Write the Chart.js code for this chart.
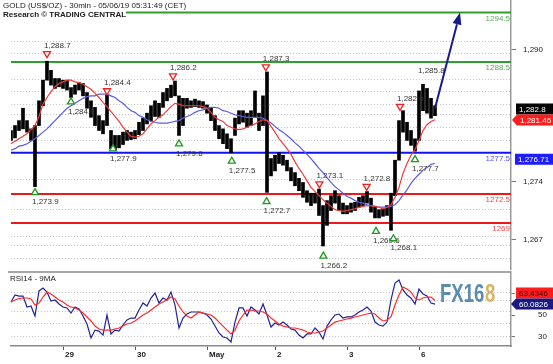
<!DOCTYPE html>
<html>
<head>
<meta charset="utf-8">
<script src="https://cdn.jsdelivr.net/npm/chart.js@4.4.1/dist/chart.umd.min.js"></script>
<style>
html, body { margin: 0; padding: 0; background: #fff; }
#wrap { position: relative; width: 553px; height: 364px; overflow: hidden; }
#wrap canvas { position: absolute; left: 0; }
#price { top: 0; }
#rsi { top: 270px; }
</style>
</head>
<body>
<div id="wrap">
  <canvas id="price" width="553" height="270"></canvas>
  <canvas id="rsi" width="553" height="94"></canvas>
</div>
<script>
// 30min bars, one slot = one sampled bar on the time axis
var slotCount = 126;
var dayTickIndex = [13, 31, 49, 66, 84, 102];
var dayTickLabels = ["29", "30", "May", "2", "3", "6"];

var priceHigh = [
    1280.2, 1280.8, 1281.4, 1282.9, 1281.4, 1280.4, 1280.8, 1283.8, 1286.3, 1288.6,
    1287.5, 1286.5, 1286.5, 1286.3, 1286.3, 1285.4, 1285.7, 1286.0, 1285.9, 1284.8,
    1283.8, 1283.0, 1282.0, 1281.4, 1284.5, 1280.2, 1279.6, 1279.6, 1280.0, 1280.2,
    1280.0, 1280.2, 1281.2, 1281.7, 1282.3, 1283.2, 1283.8, 1283.5, 1284.8, 1285.3,
    1285.7, 1286.2, 1284.4, 1284.1, 1284.1, 1283.8, 1284.0, 1283.8, 1283.7, 1283.3,
    1282.9, 1282.0, 1280.8, 1280.4, 1279.8, 1279.2, 1281.7, 1282.6, 1282.6, 1282.3,
    1282.6, 1285.0, 1282.3, 1284.4, 1287.3, 1276.8, 1277.2, 1277.5, 1277.2, 1276.6,
    1275.7, 1275.1, 1274.4, 1273.9, 1272.9, 1272.6, 1272.6, 1273.1, 1271.1, 1271.7,
    1272.3, 1272.9, 1272.3, 1271.4, 1271.1, 1271.4, 1271.5, 1272.1, 1272.3, 1272.8,
    1272.0, 1270.9, 1270.6, 1270.7, 1271.1, 1272.6, 1276.6, 1281.4, 1282.6, 1281.2,
    1280.2, 1279.2, 1285.0, 1285.8, 1285.3, 1284.1, 1283.2
];
var priceLow = [
    1279.0, 1279.3, 1280.2, 1280.4, 1280.0, 1279.0, 1273.4, 1280.8, 1283.2, 1286.3,
    1285.7, 1285.3, 1285.5, 1285.3, 1285.1, 1284.2, 1284.6, 1285.1, 1284.4, 1282.9,
    1281.8, 1280.8, 1280.2, 1279.8, 1280.8, 1278.0, 1277.8, 1278.1, 1278.5, 1279.0,
    1279.1, 1279.2, 1279.7, 1280.2, 1281.0, 1281.4, 1281.9, 1281.8, 1283.0, 1283.8,
    1284.2, 1284.4, 1279.6, 1280.8, 1282.9, 1283.0, 1283.1, 1283.0, 1282.9, 1282.3,
    1281.4, 1280.2, 1279.2, 1278.6, 1278.0, 1277.5, 1279.6, 1281.0, 1281.2, 1280.6,
    1280.8, 1281.8, 1280.2, 1280.8, 1272.7, 1274.7, 1275.3, 1276.2, 1276.0, 1275.3,
    1274.1, 1273.5, 1272.9, 1272.1, 1271.5, 1271.1, 1271.4, 1269.9, 1266.2, 1268.7,
    1270.5, 1271.4, 1270.5, 1270.1, 1270.1, 1270.3, 1270.5, 1270.9, 1271.1, 1271.4,
    1270.3, 1269.6, 1269.6, 1269.8, 1269.9, 1268.1, 1272.3, 1276.6, 1280.0, 1279.0,
    1278.4, 1277.7, 1279.0, 1282.6, 1282.3, 1281.7, 1282.0
];
var maFast = [
    1278.6, 1278.9, 1279.2, 1279.5, 1279.8, 1280.3, 1280.8, 1281.9, 1283.4, 1284.2,
    1284.9, 1285.5, 1285.9, 1286.1, 1286.3, 1286.3, 1286.1, 1286.0, 1285.8, 1285.5,
    1285.2, 1284.7, 1284.2, 1283.6, 1283.1, 1282.5, 1281.9, 1281.3, 1280.6, 1280.0,
    1279.5, 1279.4, 1279.5, 1279.8, 1280.4, 1281.0, 1281.4, 1281.8, 1282.1, 1282.6,
    1283.1, 1283.5, 1283.4, 1283.2, 1283.2, 1283.2, 1283.2, 1283.2, 1283.1, 1282.9,
    1282.4, 1281.8, 1281.5, 1281.3, 1280.8, 1280.6, 1280.4, 1280.3, 1280.4, 1280.6,
    1280.8, 1281.0, 1281.3, 1281.5, 1281.4, 1280.7, 1280.0, 1279.2, 1278.6, 1278.0,
    1277.3, 1276.4, 1275.6, 1274.9, 1274.1, 1273.3, 1272.8, 1272.3, 1271.8, 1271.4,
    1271.0, 1270.6, 1270.5, 1270.4, 1270.5, 1270.6, 1270.7, 1270.9, 1271.0, 1271.1,
    1271.1, 1271.0, 1270.9, 1270.7, 1270.9, 1271.2, 1272.1, 1273.3, 1275.0, 1276.2,
    1277.2, 1277.9, 1279.0, 1280.2, 1280.9, 1281.3, 1281.5
];
var maSlow = [
    1277.8, 1278.0, 1278.3, 1278.4, 1278.6, 1278.9, 1279.2, 1279.6, 1280.0, 1280.4,
    1280.9, 1281.4, 1281.9, 1282.4, 1282.9, 1283.2, 1283.5, 1283.8, 1284.1, 1284.3,
    1284.4, 1284.4, 1284.6, 1284.6, 1284.6, 1284.4, 1284.2, 1283.8, 1283.5, 1283.0,
    1282.6, 1282.4, 1282.0, 1281.8, 1281.5, 1281.3, 1281.2, 1281.1, 1281.1, 1281.1,
    1281.2, 1281.3, 1281.4, 1281.7, 1281.9, 1282.1, 1282.4, 1282.6, 1282.7, 1282.9,
    1283.0, 1283.0, 1282.9, 1282.6, 1282.5, 1282.3, 1282.1, 1282.0, 1281.9, 1281.8,
    1281.8, 1281.8, 1281.8, 1281.7, 1281.4, 1281.1, 1280.7, 1280.3, 1280.0, 1279.6,
    1279.2, 1278.7, 1278.3, 1277.8, 1277.3, 1276.8, 1276.2, 1275.6, 1275.1, 1274.5,
    1273.9, 1273.4, 1273.0, 1272.6, 1272.2, 1272.0, 1271.7, 1271.5, 1271.4, 1271.2,
    1271.1, 1271.0, 1270.9, 1270.9, 1270.9, 1271.0, 1271.2, 1271.7, 1272.4, 1273.0,
    1273.8, 1274.4, 1274.9, 1275.4, 1275.7, 1276.1, 1276.2
];
var rsi = [
    62.0, 68.5, 67.5, 67.5, 57.4, 58.3, 49.1, 72.2, 74.9, 71.2,
    62.9, 63.9, 60.2, 57.4, 56.5, 51.8, 57.4, 55.5, 49.1, 41.7,
    28.8, 36.1, 35.2, 31.5, 50.0, 32.5, 36.1, 35.2, 40.8, 45.4,
    47.2, 47.2, 54.6, 61.1, 58.3, 65.7, 70.3, 61.1, 65.7, 63.9,
    71.2, 59.2, 38.0, 47.2, 50.9, 52.8, 52.8, 52.8, 51.8, 50.0,
    46.3, 39.8, 33.4, 29.7, 28.8, 25.1, 43.5, 56.5, 56.5, 49.1,
    57.4, 54.6, 50.9, 60.2, 50.0, 38.9, 42.6, 40.8, 43.5, 40.8,
    37.1, 36.1, 31.5, 28.8, 32.5, 32.5, 38.0, 34.3, 27.8, 39.8,
    45.4, 50.0, 50.9, 47.2, 48.2, 48.2, 50.0, 52.8, 54.6, 57.4,
    53.7, 43.5, 40.8, 39.8, 43.5, 63.9, 79.5, 82.3, 73.1, 68.5,
    65.7, 60.2, 74.0, 69.4, 67.5, 61.1, 60.1
];
var rsiMa = [
    62.0, 63.9, 65.2, 65.7, 65.7, 64.8, 59.2, 61.1, 66.6, 71.2,
    69.4, 66.6, 63.9, 62.0, 59.2, 57.4, 56.5, 54.6, 51.8, 48.2,
    44.5, 39.8, 37.1, 36.1, 36.1, 36.1, 37.1, 38.0, 39.8, 41.7,
    42.6, 44.5, 47.2, 50.0, 51.8, 54.6, 57.4, 60.2, 62.0, 63.9,
    66.6, 64.8, 58.3, 52.8, 49.1, 47.2, 50.0, 52.8, 51.8, 50.9,
    50.0, 47.2, 43.5, 39.8, 36.1, 32.5, 36.1, 44.5, 50.0, 54.6,
    54.6, 53.7, 53.7, 52.8, 50.9, 47.2, 44.5, 41.7, 39.8, 38.9,
    38.0, 38.0, 37.1, 36.1, 34.3, 33.4, 33.4, 34.3, 35.2, 38.0,
    40.8, 43.5, 44.5, 45.4, 46.3, 47.2, 48.2, 49.1, 50.0, 50.9,
    51.8, 50.9, 47.2, 44.5, 45.4, 48.2, 59.2, 68.5, 75.9, 74.0,
    71.2, 65.7, 63.9, 65.7, 66.6, 66.6, 63.4
];

// support / resistance levels
var levels = [1294.5, 1288.5, 1277.5, 1272.5, 1269];
var levelKinds = ["res", "res", "pivot", "sup", "sup"];

// swing markers: where the triangle sits and the value it reports
var highIdx = [9, 24, 40.5, 63.7, 77.1, 88.9, 97.25];
var highPos = [1289.4, 1284.9, 1286.7, 1287.8, 1273.6, 1273.3, 1283.0];
var highText = [1288.7, 1284.4, 1286.2, 1287.3, 1273.1, 1272.8, 1282.6];
var lowIdx = [6, 15, 25.5, 42, 55.2, 63.9, 78.1, 91.25, 95.6, 101];
var lowPos = [1272.8, 1283.8, 1278.1, 1278.7, 1276.6, 1271.7, 1265.1, 1268.1, 1267.2, 1276.8];
var lowText = [1273.9, 1284.6, 1277.9, 1279.6, 1277.5, 1272.7, 1266.2, 1269.6, 1268.1, 1277.7];
var noteIdx = [102.5];
var notePos = [1286.3];
var noteText = [1285.8];

// projected path
var arrowFrom = [106, 1282.9];
var arrowTo = [112.25, 1294.5];

var lastPrice = 1282.8;
var maFastLast = 1281.46;
var maSlowLast = 1276.71;
var rsiLast = 60.0826;
var rsiMaLast = 63.4346;

// labelled ticks and the dotted grid rows
var priceTicks = [1267, 1274, 1290];
var priceGrid = [1264.7, 1266.2, 1267.4, 1270.6, 1274.3, 1279.0, 1280.6, 1282.1, 1283.3, 1284.9, 1286.4, 1289.5, 1291.0];
var rsiTicks = [30, 50, 70];
var rsiGrid = [30.5, 42.3, 53, 63.5, 71];

var FONT = '"Liberation Sans", Arial, sans-serif';
var GRID = "#c4c4c4";
var NONE = "rgba(0,0,0,0)";
var levelColor = { res: "#2e9e2e", pivot: "#1212ee", sup: "#ee1818" };
var levelTextColor = { res: "#55aa55", pivot: "#5050ff", sup: "#f04848" };

var slots = [];
for (var i = 0; i < slotCount; i++) slots.push(i);

var fmt = function(v, d) {
    return v.toLocaleString("en-US", { minimumFractionDigits: d, maximumFractionDigits: d });
};

var mergeTicks = function(labelled, grid) {
    var all = labelled.concat(grid).sort(function(a, b) { return a - b; });
    return all.map(function(v) { return { value: v }; });
};

var drawTag = function(ctx, x, y, text, bg, fg, pointer) {
    var h = 11;
    ctx.fillStyle = bg;
    ctx.beginPath();
    if (pointer) {
        ctx.moveTo(x - 5, y);
        ctx.lineTo(x, y - h / 2);
    } else {
        ctx.moveTo(x, y - h / 2);
    }
    ctx.lineTo(553, y - h / 2);
    ctx.lineTo(553, y + h / 2);
    ctx.lineTo(x, y + h / 2);
    ctx.closePath();
    ctx.fill();
    ctx.fillStyle = fg;
    ctx.font = "8px " + FONT;
    ctx.textAlign = "left";
    ctx.textBaseline = "middle";
    ctx.fillText(text, x + 3, y + 0.5);
};

var triangle = function(ctx, x, y, down, color) {
    ctx.beginPath();
    if (down) {
        ctx.moveTo(x - 3.5, y - 3);
        ctx.lineTo(x + 3.5, y - 3);
        ctx.lineTo(x, y + 3);
    } else {
        ctx.moveTo(x - 3.5, y + 3);
        ctx.lineTo(x + 3.5, y + 3);
        ctx.lineTo(x, y - 3);
    }
    ctx.closePath();
    ctx.fillStyle = "#fff";
    ctx.fill();
    ctx.lineWidth = 1.3;
    ctx.strokeStyle = color;
    ctx.stroke();
};

var priceDecor = {
    id: "priceDecor",
    afterDatasetsDraw: function(chart) {
        var ctx = chart.ctx, xs = chart.scales.x, ys = chart.scales.y, area = chart.chartArea;
        var k, x, y;
        ctx.save();
        ctx.font = "8px " + FONT;
        ctx.textAlign = "right";
        ctx.textBaseline = "top";
        for (k = 0; k < levels.length; k++) {
            ctx.fillStyle = levelTextColor[levelKinds[k]];
            ctx.fillText(String(levels[k]), area.right - 1, ys.getPixelForValue(levels[k]) + 2);
        }

        ctx.textAlign = "left";
        ctx.textBaseline = "middle";
        for (k = 0; k < highIdx.length; k++) {
            x = xs.getPixelForValue(highIdx[k]);
            y = ys.getPixelForValue(highPos[k]);
            triangle(ctx, x, y, true, "#ee2222");
            ctx.fillStyle = "#333";
            ctx.fillText(fmt(highText[k], 1), x - 3, y - 9);
        }
        for (k = 0; k < lowIdx.length; k++) {
            x = xs.getPixelForValue(lowIdx[k]);
            y = ys.getPixelForValue(lowPos[k]);
            triangle(ctx, x, y, false, "#229922");
            ctx.fillStyle = "#333";
            ctx.fillText(fmt(lowText[k], 1), x - 3, y + 10.5);
        }
        for (k = 0; k < noteIdx.length; k++) {
            ctx.fillStyle = "#333";
            ctx.fillText(fmt(noteText[k], 1), xs.getPixelForValue(noteIdx[k]) - 3, ys.getPixelForValue(notePos[k]) - 9);
        }

        // arrow
        var x0 = xs.getPixelForValue(arrowFrom[0]), y0 = ys.getPixelForValue(arrowFrom[1]);
        var x1 = xs.getPixelForValue(arrowTo[0]), y1 = ys.getPixelForValue(arrowTo[1]);
        var ang = Math.atan2(y1 - y0, x1 - x0);
        var hl = 12, hw = 4.5;
        var bx = x1 - hl * Math.cos(ang), by = y1 - hl * Math.sin(ang);
        ctx.strokeStyle = "#1a1a8a";
        ctx.lineWidth = 2;
        ctx.beginPath();
        ctx.moveTo(x0, y0);
        ctx.lineTo(bx, by);
        ctx.stroke();
        ctx.fillStyle = "#1a1a8a";
        ctx.beginPath();
        ctx.moveTo(x1, y1);
        ctx.lineTo(bx + hw * Math.sin(ang), by - hw * Math.cos(ang));
        ctx.lineTo(bx - hw * Math.sin(ang), by + hw * Math.cos(ang));
        ctx.closePath();
        ctx.fill();
        ctx.restore();
    },
    afterDraw: function(chart) {
        var ctx = chart.ctx, ys = chart.scales.y;
        ctx.save();
        drawTag(ctx, 516, ys.getPixelForValue(lastPrice), fmt(lastPrice, 1), "#000", "#fff", false);
        drawTag(ctx, 517, ys.getPixelForValue(maFastLast), fmt(maFastLast, 2), "#ff1c1c", "#fff", true);
        drawTag(ctx, 515, ys.getPixelForValue(maSlowLast), fmt(maSlowLast, 2), "#1c1cff", "#fff", false);

        ctx.fillStyle = "#fff";
        ctx.fillRect(0, 0, 126, 20);
        ctx.fillStyle = "#222";
        ctx.textAlign = "left";
        ctx.textBaseline = "top";
        ctx.font = "8px " + FONT;
        ctx.fillText("GOLD (US$/OZ) - 30min - 05/06/19 05:31:49 (CET)", 3, 2);
        ctx.font = "bold 8px " + FONT;
        ctx.fillText("Research \u00a9 TRADING CENTRAL", 3, 11);
        ctx.restore();
    }
};

var rsiDecor = {
    id: "rsiDecor",
    afterDraw: function(chart) {
        var ctx = chart.ctx, ys = chart.scales.y, area = chart.chartArea;
        ctx.save();
        ctx.strokeStyle = "#8a8a8a";
        ctx.lineWidth = 1.5;
        ctx.beginPath();
        ctx.moveTo(8, area.top);
        ctx.lineTo(area.right, area.top);
        ctx.stroke();

        ctx.fillStyle = "#222";
        ctx.font = "8px " + FONT;
        ctx.textAlign = "left";
        ctx.textBaseline = "top";
        ctx.fillText("RSI14 - 9MA", 10, area.top + 3);

        // tags, the upper one pushed clear of the lower one
        var yBlue = ys.getPixelForValue(rsiLast);
        var yRed = ys.getPixelForValue(rsiMaLast);
        if (yBlue - yRed < 11) yRed = yBlue - 11;
        drawTag(ctx, 516, yRed, rsiMaLast.toFixed(4), "#ff1c1c", "#4a0000", false);
        drawTag(ctx, 516, yBlue, rsiLast.toFixed(4), "#1a1a80", "#fff", true);

        // FX168 logo
        ctx.translate(440, area.top + 30);
        ctx.scale(0.74, 1);
        ctx.font = "bold 25px " + FONT;
        ctx.textBaseline = "alphabetic";
        ctx.fillStyle = "#5a8cad";
        ctx.fillText("FX16", 0, 0);
        var w = ctx.measureText("FX16").width;
        ctx.fillStyle = "#d8b565";
        ctx.fillText("8", w + 1, 0);
        ctx.restore();
    }
};

var datasets = [
    { type: "line", data: maFast, borderColor: "#f23a3a", borderWidth: 1.2, pointRadius: 0, order: 0 },
    { type: "line", data: maSlow, borderColor: "#5b5be6", borderWidth: 1.2, pointRadius: 0, order: 0 },
    {
        type: "bar",
        data: priceLow.map(function(lo, i) { return [lo, priceHigh[i]]; }),
        backgroundColor: "#000",
        barThickness: 3,
        order: 1
    }
];
for (var k = 0; k < levels.length; k++) {
    datasets.push({
        type: "line",
        data: slots.map(function() { return levels[k]; }),
        borderColor: levelColor[levelKinds[k]],
        borderWidth: 2,
        pointRadius: 0,
        order: 2
    });
}

var priceChart = new Chart(document.getElementById("price").getContext("2d"), {
    type: "bar",
    data: { labels: slots, datasets: datasets },
    options: {
        responsive: false,
        animation: false,
        layout: { padding: { left: 11, top: 0, right: 0, bottom: 0 } },
        plugins: { legend: { display: false }, tooltip: { enabled: false } },
        scales: {
            x: { display: false, offset: false },
            y: {
                position: "right",
                min: 1263.29,
                max: 1296.02,
                afterBuildTicks: function(s) {
                    s.ticks = mergeTicks(priceTicks, priceGrid);
                },
                afterFit: function(s) {
                    s.width = 42;
                    s.paddingTop = 0;
                    s.paddingBottom = 0;
                },
                ticks: {
                    autoSkip: false,
                    font: { family: FONT, size: 8 },
                    color: "#222",
                    padding: 7,
                    callback: function(v) { return priceTicks.indexOf(v) >= 0 ? fmt(v, 0) : ""; }
                },
                grid: {
                    tickLength: 5,
                    color: function(c) { return c.tick && priceGrid.indexOf(c.tick.value) >= 0 ? GRID : NONE; },
                    tickColor: function(c) { return c.tick && priceTicks.indexOf(c.tick.value) >= 0 ? "#777" : NONE; }
                },
                border: { color: "#9a9a9a", width: 1.5, dash: [1, 2] }
            }
        }
    },
    plugins: [priceDecor]
});

var rsiChart = new Chart(document.getElementById("rsi").getContext("2d"), {
    type: "line",
    data: {
        labels: slots,
        datasets: [
            { data: rsiMa, borderColor: "#ff2a2a", borderWidth: 1.2, pointRadius: 0 },
            { data: rsi, borderColor: "#22229a", borderWidth: 1.2, pointRadius: 0 }
        ]
    },
    options: {
        responsive: false,
        animation: false,
        layout: { padding: { left: 11, top: 2, right: 0, bottom: 0 } },
        plugins: { legend: { display: false }, tooltip: { enabled: false } },
        scales: {
            x: {
                offset: false,
                afterBuildTicks: function(s) {
                    s.ticks = dayTickIndex.map(function(v) { return { value: v }; });
                },
                afterFit: function(s) {
                    s.height = 18;
                    s.paddingLeft = 0;
                    s.paddingRight = 0;
                },
                ticks: {
                    autoSkip: false,
                    maxRotation: 0,
                    align: "start",
                    labelOffset: 2,
                    padding: 0,
                    font: { family: FONT, size: 8, weight: "bold" },
                    color: "#222",
                    callback: function(v) { return dayTickLabels[dayTickIndex.indexOf(v)]; }
                },
                grid: { drawOnChartArea: false, tickLength: 4, color: "#555" },
                border: { color: "#8a8a8a", width: 1.5 }
            },
            y: {
                position: "right",
                min: 21.4,
                max: 89.7,
                afterBuildTicks: function(s) {
                    s.ticks = mergeTicks(rsiTicks, rsiGrid);
                },
                afterFit: function(s) {
                    s.width = 42;
                    s.paddingTop = 0;
                    s.paddingBottom = 0;
                },
                ticks: {
                    autoSkip: false,
                    font: { family: FONT, size: 8 },
                    color: "#222",
                    padding: 23,
                    callback: function(v) { return rsiTicks.indexOf(v) >= 0 ? String(v) : ""; }
                },
                grid: {
                    tickLength: 4,
                    color: function(c) { return c.tick && rsiGrid.indexOf(c.tick.value) >= 0 ? GRID : NONE; },
                    tickColor: function(c) { return c.tick && rsiTicks.indexOf(c.tick.value) >= 0 ? "#777" : NONE; }
                },
                border: { color: "#9a9a9a", width: 1.5, dash: [1, 2] }
            }
        }
    },
    plugins: [rsiDecor]
});
</script>
</body>
</html>
